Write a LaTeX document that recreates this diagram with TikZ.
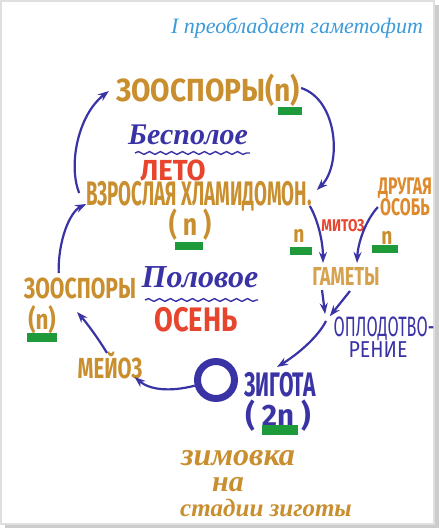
\documentclass[tikz,border=0pt]{standalone}
\usepackage{fontspec}
\setmainfont{Fira Sans}
\newfontfamily\markfont{Fira Sans}
\newfontfamily\handfont{Liberation Serif}
\usetikzlibrary{arrows.meta,decorations.pathmorphing}
\definecolor{ochre}{HTML}{C98E2E}
\definecolor{sand}{HTML}{D6A24E}
\definecolor{amber}{HTML}{DE8A2C}
\definecolor{marker}{HTML}{E8452E}
\definecolor{ink}{HTML}{3A33A6}
\definecolor{sky}{HTML}{3C9BD8}
\definecolor{leaf}{HTML}{1F9A3B}

\begin{document}
\begin{tikzpicture}[x=1pt, y=1pt, inner sep=0pt,
  caps/.style 2 args={font=\markfont\bfseries\fontsize{#1}{#1}\selectfont
                      \addfontfeature{FakeStretch=#2}},
  thin caps/.style 2 args={font=\markfont\fontsize{#1}{#1}\selectfont
                           \addfontfeature{FakeStretch=#2}},
  hand/.style={font=\handfont\itshape\bfseries\fontsize{#1}{#1}\selectfont},
  arr/.style={-{Stealth[length=11pt,width=8pt]}, draw=ink, line width=2.2pt},
  wave/.style={draw=ink, line width=1.4pt, decorate,
               decoration={snake, segment length=11pt, amplitude=1.4pt}},
]
\useasboundingbox (0,0) rectangle (439,-528);
% frame of the scan
\fill[gray!40] (5,-5) rectangle (439,-528);
\fill[white] (0,0) rectangle (434,-524);
\draw[gray!25, line width=1.2pt] (1,-1) rectangle (434,-524);

\node[font=\handfont\itshape\fontsize{22}{22}\selectfont, text=sky] (title)
  at (297,-28) {I преобладает гаметофит};

% asexual cycle
\node[caps={32}{0.88}, text=ochre] (zsTop) at (208,-90) {ЗООСПОРЫ(n)};
\node[hand=30, text=ink] (asex) at (188,-135) {Бесполое};
\node[caps={29}{0.95}, text=marker] (summer) at (173,-170) {ЛЕТО};
\node[caps={34}{0.55}, text=ochre] (adult) at (199,-196) {ВЗРОСЛАЯ ХЛАМИДОМОН.};
\node[caps={31}{0.8}, text=ochre] (adultN) at (190,-225) {( n )};

% gametes
\node[caps={24}{0.8}, text=ochre] (nLeft) at (299,-236) {n};
\node[caps={17}{0.8}, text=marker] (mitosis) at (343,-226) {МИТОЗ};
\node[caps={24}{0.66}, text=amber, align=center] (other) at (405,-197)
  {ДРУГАЯ\\[-3pt]ОСОБЬ};
\node[caps={24}{0.8}, text=ochre] (nRight) at (387,-238) {n};
\node[caps={26}{0.7}, text=sand] (gametes) at (346,-276) {ГАМЕТЫ};
\node[thin caps={28}{0.58}, text=ink] (fert) at (384,-329) {ОПЛОДОТВО-};
\node[thin caps={23}{0.85}, text=ink] (fert2) at (378,-350) {РЕНИЕ};
\coordinate (join) at (326,-321);

% sexual cycle
\node[caps={29}{0.73}, text=ochre] (zsLeft) at (80,-288) {ЗООСПОРЫ};
\node[caps={28}{0.8}, text=ochre] (zsLeftN) at (42,-320) {(n)};
\node[hand=32, text=ink] (sex) at (200,-277) {Половое};
\node[caps={34}{0.8}, text=marker] (autumn) at (196,-320) {ОСЕНЬ};
\node[caps={29}{0.7}, text=ochre] (meiosis) at (110,-365) {МЕЙОЗ};
\node[circle, draw=ink, line width=7pt, minimum size=37pt] (ring) at (216,-380) {};
\node[caps={34}{0.62}, text=ink] (zygote) at (280,-385) {ЗИГОТА};
\node[caps={31}{0.95}, text=ink] (zygoteN) at (278,-416) {( 2n )};

\node[hand=32, text=ochre] (winter) at (238,-458) {зимовка};
\node[hand=30, text=ochre] (on) at (228,-485) {на};
\node[hand=25, text=ochre] (stage) at (266,-508) {стадии зиготы};

% green bars under the ploidy
\fill[leaf] (278,-107) rectangle (302,-115);
\fill[leaf] (175,-242) rectangle (203,-250);
\fill[leaf] (290,-247) rectangle (312,-255);
\fill[leaf] (372,-245) rectangle (398,-253);
\fill[leaf] (27,-333) rectangle (57,-342);
\fill[leaf] (262,-425) rectangle (298,-435);

\draw[wave] ([shift={(-53,-18)}]asex.center) -- ([shift={(62,-18)}]asex.center);
\draw[wave] ([shift={(-55,-23)}]sex.center) -- ([shift={(58,-23)}]sex.center);

% arrows
\draw[arr] ([shift={(-7,3)}]adult.west) .. controls (68,-165) and (78,-115)
  .. ([shift={(-7,-1)}]zsTop.west);
\draw[arr] ([shift={(35,15)}]zsLeft.west) .. controls (58,-240) and (70,-212)
  .. ([yshift=-8pt]adult.west);
\draw[arr] ([shift={(1,2)}]zsTop.east) .. controls (338,-100) and (342,-165)
  .. ([shift={(5,6)}]adult.east);
\draw[arr] ([shift={(-2,-10)}]adult.east) .. controls (318,-220) and (323,-242)
  .. ([shift={(-23,13)}]gametes.center);
\draw[arr] ([yshift=-10pt]other.west) .. controls (366,-220) and (358,-242)
  .. ([shift={(11,13)}]gametes.center);
\draw[arr, shorten >=7pt] ([shift={(-24,-14)}]gametes.center) -- (join);
\draw[arr, shorten >=6pt] ([shift={(4,-15)}]gametes.center) -- (join);
\draw[arr] (join) .. controls (318,-337) and (298,-354)
  .. ([shift={(-3,18)}]zygote.center);
\draw[arr] (ring.195) .. controls (170,-392) and (150,-390)
  .. ([shift={(-8,-12)}]meiosis.east);
\draw[arr] ([shift={(-3,12)}]meiosis.center) .. controls (98,-338) and (86,-322)
  .. ([shift={(-3,-24)}]zsLeft.center);
\end{tikzpicture}
\end{document}
